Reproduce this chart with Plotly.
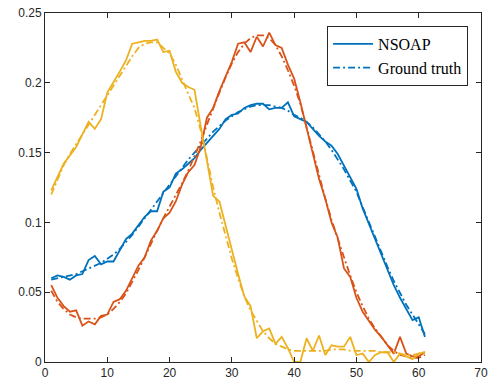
import plotly.graph_objects as go

x = list(range(1, 62))

blue_nsoap = [0.060, 0.062, 0.061, 0.059, 0.062, 0.063, 0.073, 0.076, 0.070, 0.072,
              0.072, 0.080, 0.088, 0.092, 0.098, 0.104, 0.108, 0.108, 0.122, 0.125,
              0.135, 0.138, 0.142, 0.146, 0.152, 0.157, 0.162, 0.167, 0.174, 0.177,
              0.178, 0.182, 0.184, 0.185, 0.185, 0.181, 0.182, 0.182, 0.186, 0.176,
              0.174, 0.172, 0.167, 0.162, 0.158, 0.155, 0.149, 0.141, 0.132, 0.124,
              0.110, 0.099, 0.087, 0.076, 0.066, 0.055, 0.046, 0.038, 0.030, 0.032,
              0.018]
blue_gt = [0.059, 0.060, 0.061, 0.062, 0.063, 0.065, 0.067, 0.069, 0.071, 0.074,
           0.077, 0.081, 0.086, 0.091, 0.097, 0.103, 0.109, 0.115, 0.121, 0.127,
           0.133, 0.139, 0.145, 0.150, 0.155, 0.160, 0.165, 0.169, 0.173, 0.176,
           0.179, 0.181, 0.183, 0.184, 0.184, 0.184, 0.183, 0.182, 0.180, 0.177,
           0.175, 0.172, 0.168, 0.163, 0.158, 0.152, 0.145, 0.138, 0.130, 0.122,
           0.111, 0.100, 0.089, 0.078, 0.068, 0.058, 0.049, 0.041, 0.034, 0.027,
           0.020]
orange_nsoap = [0.055, 0.046, 0.040, 0.036, 0.037, 0.026, 0.029, 0.027, 0.033, 0.034,
                0.043, 0.045, 0.051, 0.060, 0.069, 0.075, 0.087, 0.094, 0.103, 0.107,
                0.115, 0.127, 0.136, 0.141, 0.154, 0.175, 0.182, 0.194, 0.204, 0.215,
                0.228, 0.229, 0.222, 0.233, 0.226, 0.236, 0.227, 0.225, 0.213, 0.203,
                0.186, 0.168, 0.149, 0.131, 0.117, 0.100, 0.089, 0.067, 0.061, 0.046,
                0.036, 0.029, 0.023, 0.018, 0.012, 0.006, 0.018, 0.006, 0.004, 0.004,
                0.007]
orange_gt = [0.051, 0.043, 0.038, 0.034, 0.032, 0.031, 0.031, 0.031, 0.032, 0.034,
             0.038, 0.043, 0.049, 0.057, 0.066, 0.075, 0.085, 0.094, 0.103, 0.111,
             0.120, 0.128, 0.137, 0.147, 0.158, 0.170, 0.182, 0.193, 0.204, 0.214,
             0.222, 0.228, 0.232, 0.234, 0.234, 0.232, 0.227, 0.219, 0.209, 0.198,
             0.185, 0.168, 0.150, 0.133, 0.117, 0.102, 0.088, 0.075, 0.062, 0.050,
             0.040, 0.031, 0.024, 0.018, 0.012, 0.008, 0.005, 0.004, 0.003, 0.003,
             0.005]
yellow_nsoap = [0.123, 0.133, 0.142, 0.148, 0.154, 0.163, 0.172, 0.167, 0.174, 0.193,
                0.200, 0.208, 0.216, 0.228, 0.229, 0.230, 0.230, 0.231, 0.222, 0.223,
                0.208, 0.200, 0.197, 0.195, 0.169, 0.144, 0.119, 0.115, 0.097, 0.080,
                0.063, 0.047, 0.040, 0.017, 0.022, 0.024, 0.013, 0.018, 0.010, 0.000,
                0.000, 0.017, 0.008, 0.019, 0.005, 0.012, 0.011, 0.011, 0.018, 0.005,
                0.006, 0.000, 0.005, 0.007, 0.007, 0.000, 0.006, 0.004, 0.002, 0.006,
                0.007]
yellow_gt = [0.120, 0.131, 0.141, 0.149, 0.156, 0.163, 0.170, 0.177, 0.184, 0.191,
             0.198, 0.205, 0.212, 0.219, 0.225, 0.228, 0.229, 0.229, 0.225, 0.221,
             0.213, 0.202, 0.192, 0.182, 0.166, 0.146, 0.125, 0.107, 0.090, 0.074,
             0.060, 0.047, 0.037, 0.029, 0.022, 0.017, 0.013, 0.011, 0.009, 0.008,
             0.008, 0.008, 0.008, 0.008, 0.008, 0.009, 0.009, 0.009, 0.008, 0.008,
             0.008, 0.008, 0.008, 0.007, 0.007, 0.007, 0.006, 0.005, 0.005, 0.006,
             0.007]

BLUE, ORANGE, YELLOW = "#0072BD", "#D95319", "#EDB120"
LW = 1.8
DASHDOT = "7px,3px,2px,3px"

fig = go.Figure()
series = [
    (blue_nsoap, BLUE, "solid", "NSOAP", True),
    (blue_gt, BLUE, DASHDOT, "Ground truth", True),
    (orange_nsoap, ORANGE, "solid", "NSOAP", False),
    (orange_gt, ORANGE, DASHDOT, "Ground truth", False),
    (yellow_nsoap, YELLOW, "solid", "NSOAP", False),
    (yellow_gt, YELLOW, DASHDOT, "Ground truth", False),
]
for ys, col, dash, name, show in series:
    fig.add_trace(go.Scatter(x=x, y=ys, mode="lines", name=name, showlegend=show,
                             line=dict(color=col, width=LW, dash=dash)))

axis_common = dict(
    showgrid=False, zeroline=False, showline=True, linecolor="#262626", linewidth=1,
    mirror="ticks", ticks="inside", ticklen=5, tickcolor="#262626", tickwidth=1,
    ticklabeloverflow="allow",
    tickfont=dict(family="Liberation Sans, Arial", size=12, color="#262626"),
)
fig.update_xaxes(range=[0, 70], tickvals=[0, 10, 20, 30, 40, 50, 60, 70], **axis_common)
fig.update_yaxes(range=[0, 0.25], tickvals=[0, 0.05, 0.1, 0.15, 0.2, 0.25],
                 ticktext=["0", "0.05", "0.1", "0.15", "0.2", "0.25"], **axis_common)

fig.update_layout(
    width=494, height=387,
    margin=dict(l=45, r=6, t=12, b=25),
    plot_bgcolor="white", paper_bgcolor="white",
    legend=dict(x=0.647, y=0.963, xanchor="left", yanchor="top",
                bgcolor="white", bordercolor="#262626", borderwidth=1,
                font=dict(family="Liberation Serif, Times New Roman", size=16, color="#000000"),
                tracegroupgap=0, itemwidth=40),
)

fig.write_html("out.html")
